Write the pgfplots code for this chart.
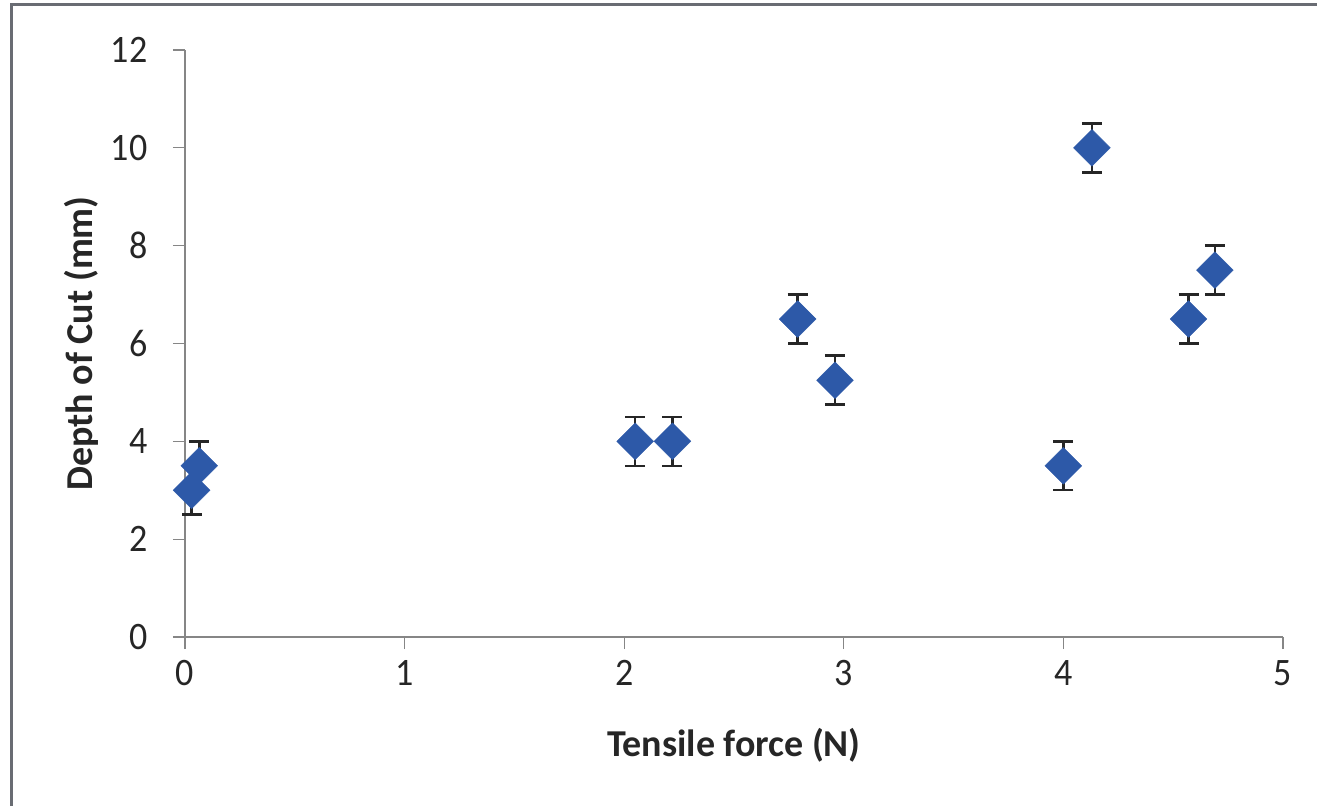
\documentclass[border=0pt]{standalone}
\usepackage{pgfplots}
\pgfplotsset{compat=1.18}
\usepackage{fontspec}
\setmainfont{Carlito}
\definecolor{ptblue}{RGB}{45,89,168}
\definecolor{axgray}{RGB}{134,134,134}
\definecolor{framegray}{RGB}{105,108,115}
\pgfplotstableread{
x y err
0.03 3.0 0.5
0.065 3.5 0.5
2.05 4.0 0.5
2.22 4.0 0.5
2.79 6.5 0.5
2.96 5.25 0.5
4.0 3.5 0.5
4.13 10.0 0.5
4.57 6.5 0.5
4.69 7.5 0.5
}\datatable
\begin{document}
\begin{tikzpicture}
\path[use as bounding box] (0pt,0pt) rectangle (1317pt,806pt);
\draw[framegray, line width=3pt] (11pt,0pt) -- (11pt,801pt) -- (1317pt,801pt);
\begin{axis}[
  at={(185pt,169pt)}, anchor=south west,
  scale only axis, width=1098pt, height=587pt,
  xmin=0, xmax=5, ymin=0, ymax=12,
  axis x line*=bottom, axis y line*=left,
  axis line style={axgray, line width=1.3pt},
  xtick={0,1,2,3,4,5}, ytick={0,2,4,6,8,10,12},
  tick align=outside, major tick length=12pt,
  tick style={axgray, line width=1.3pt},
  /pgf/number format/assume math mode=true,
  ticklabel style={font=\fontsize{36}{40}\selectfont, text=black!85, yscale=1.08},
  xticklabel style={yshift=-7pt},
  yticklabel style={xshift=-22pt},
  xlabel={\textbf{Tensile force (N)}},
  ylabel={\textbf{Depth of Cut (mm)}},
  label style={font=\fontsize{38}{42}\selectfont, text=black!85},
  xlabel style={at={(axis description cs:0.5,-0.184)}, anchor=center},
  ylabel style={at={(axis description cs:-0.0947,0.5)}, anchor=center},
  clip=false,
]
\addplot[only marks, mark=square*, mark size=13pt,
  mark options={rotate=45, fill=ptblue, draw=ptblue},
  error bars/.cd, y dir=both, y explicit,
  error bar style={black!85, line width=2.5pt},
  error mark options={rotate=90, mark size=10pt, line width=2.5pt, black!85}]
  table[x=x, y=y, y error=err]{\datatable};
\end{axis}
\end{tikzpicture}
\end{document}
